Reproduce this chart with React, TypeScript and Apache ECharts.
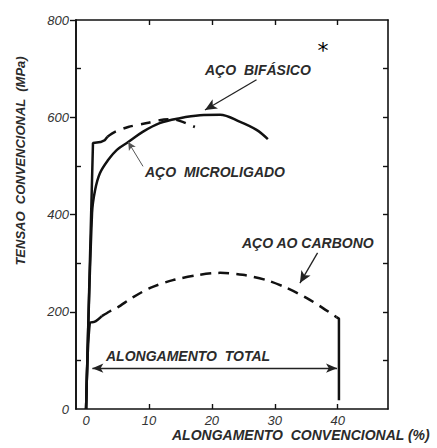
import React, { useEffect, useRef } from "react";
import * as echarts from "echarts";

// ---- data (strain %, stress MPa) ----
const dualPhase: number[][] = [
  [0, 0], [0.95, 403], [1.43, 450], [2.2, 485], [3.5, 512], [4.9, 533], [6.7, 549],
  [9.0, 570], [11.7, 588], [14.9, 598], [18.1, 604], [21.3, 605], [24.4, 591],
  [27.1, 574], [28.9, 555],
];
const hslaSolid: number[][] = [[0, 0], [1.1, 547], [2.3, 549], [3.0, 553], [3.4, 560]];
const hslaDashed: number[][] = [
  [3.4, 560], [4.6, 570], [6.7, 580], [9.7, 588], [11.7, 594], [13.7, 596], [15.0, 592], [17.3, 580],
];
const carbonSolid: number[][] = [[0, 0], [0.6, 177], [1.3, 179], [1.9, 184], [2.5, 191]];
const carbonDashed: number[][] = [
  [2.5, 191], [3.8, 201], [4.9, 208], [7.5, 230], [10.2, 249], [13.8, 265], [18.1, 276],
  [21.3, 280], [24.9, 276], [28.7, 265], [31.9, 249], [35.1, 228], [37.6, 208], [39.8, 189],
];
const carbonFracture: number[][] = [[39.8, 189], [40.2, 186], [40.2, 18]];

const xLabelValues = [0, 10, 20, 30, 40];
const xTickValues = [10, 20, 30, 40];
const yLabelValues = [0, 200, 400, 600, 800];
const yMinorValues = [100, 300, 500, 700];
const yRightTicks = [100, 200, 300, 400, 500, 600, 700];

// annotation arrows: [from, to] in data coords
const bifasicoArrow = [[27.1, 677], [18.9, 615]];
const microArrow = [[9.05, 499], [6.7, 549]];
const carbonoArrow = [[36.8, 321], [34.0, 259]];
const totalArrow = [[1.0, 84], [39.9, 84]];

const INK = "#111";
const TXT = "#2b2b2b";
const ANN_FONT = "italic bold 14px 'Liberation Sans', Arial, sans-serif";

export default function App() {
  const ref = useRef<HTMLDivElement>(null);
  useEffect(() => {
    if (!ref.current) return;
    const chart = echarts.init(ref.current, undefined, { renderer: "svg" });
    const tickLabel = {
      fontFamily: "Liberation Sans",
      fontStyle: "italic" as const,
      fontSize: 13,
      color: "#333",
    };
    const curve = (data: number[][], dashed: any, smooth: number | boolean) => ({
      type: "line",
      data,
      showSymbol: false,
      symbol: "none",
      smooth,
      lineStyle: { color: INK, width: 2.5, type: dashed || "solid", cap: "butt" },
      silent: true,
      z: 3,
    });
    const arrowLine = (
      pts: number[][],
      width: number,
      color: string,
      s0: string,
      s1: string,
      size: number[]
    ) => [
      { coord: pts[0], symbol: s0, symbolSize: size },
      { coord: pts[1], symbol: s1, symbolSize: size, lineStyle: { width, color, type: "solid" } },
    ];
    chart.setOption({
      animation: false,
      grid: { left: 76, right: 49, top: 20, bottom: 39, containLabel: false },
      xAxis: [
        {
          type: "value",
          min: -1.6,
          max: 48,
          position: "bottom",
          axisLine: { show: true, onZero: false, lineStyle: { color: INK, width: 1.6 } },
          axisTick: { show: true, inside: true, length: 5, customValues: xTickValues, lineStyle: { color: INK, width: 1.4 } },
          axisLabel: { show: true, customValues: xLabelValues, margin: 5, ...tickLabel },
          splitLine: { show: false },
        },
        {
          type: "value",
          min: -1.6,
          max: 48,
          position: "top",
          axisLine: { show: true, onZero: false, lineStyle: { color: INK, width: 1.6 } },
          axisTick: { show: true, inside: true, length: 5, customValues: xTickValues, lineStyle: { color: INK, width: 1.4 } },
          axisLabel: { show: false },
          splitLine: { show: false },
        },
      ],
      yAxis: [
        {
          type: "value",
          min: 0,
          max: 800,
          position: "left",
          axisLine: { show: true, onZero: false, lineStyle: { color: INK, width: 1.6 } },
          axisTick: { show: true, inside: false, length: 6, customValues: [200, 400, 600, 800], lineStyle: { color: INK, width: 1.4 } },
          axisLabel: { show: true, customValues: yLabelValues, margin: 7, ...tickLabel },
          splitLine: { show: false },
        },
        {
          type: "value",
          min: 0,
          max: 800,
          position: "right",
          axisLine: { show: true, onZero: false, lineStyle: { color: INK, width: 1.6 } },
          axisTick: { show: true, inside: true, length: 5, customValues: yRightTicks, lineStyle: { color: INK, width: 1.4 } },
          axisLabel: { show: false },
          splitLine: { show: false },
        },
        {
          type: "value",
          min: 0,
          max: 800,
          position: "left",
          axisLine: { show: true, onZero: false, lineStyle: { color: INK, width: 1.6 } },
          axisTick: { show: true, inside: true, length: 5, customValues: yMinorValues, lineStyle: { color: INK, width: 1.4 } },
          axisLabel: { show: false },
          splitLine: { show: false },
        },
      ],
      series: [
        curve(dualPhase, "solid", 0.35),
        curve(hslaSolid, "solid", false),
        curve(hslaDashed, [10, 8], 0.3),
        curve(carbonSolid, "solid", 0.3),
        curve(carbonDashed, [11, 7], 0.3),
        curve(carbonFracture, "solid", false),
        {
          type: "line",
          data: [],
          silent: true,
          markLine: {
            silent: true,
            animation: false,
            label: { show: false },
            lineStyle: { color: INK, width: 1.3, type: "solid" },
            data: [
              arrowLine(bifasicoArrow, 1.3, "#222", "none", "arrow", [8, 12]),
              arrowLine(microArrow, 1, "#555", "none", "arrow", [6, 8]),
              arrowLine(carbonoArrow, 1.3, "#222", "none", "arrow", [8, 12]),
              arrowLine(totalArrow, 1.3, "#222", "arrow", "arrow", [7, 11]),
            ],
          },
        },
      ],
      graphic: [
        {
          type: "text",
          x: 20,
          y: 161,
          rotation: Math.PI / 2,
          style: {
            text: "TENSAO  CONVENCIONAL  (MPa)",
            font: "italic bold 13px 'Liberation Sans', Arial, sans-serif",
            fill: TXT,
            textAlign: "center",
            textVerticalAlign: "middle",
          },
        },
        {
          type: "text",
          x: 172,
          y: 435,
          style: {
            text: "ALONGAMENTO  CONVENCIONAL (%)",
            font: "italic bold 14px 'Liberation Sans', Arial, sans-serif",
            fill: TXT,
            textAlign: "left",
            textVerticalAlign: "middle",
          },
        },
        {
          type: "text",
          x: 205,
          y: 70,
          style: { text: "AÇO  BIFÁSICO", font: ANN_FONT, fill: TXT, textAlign: "left", textVerticalAlign: "middle" },
        },
        {
          type: "text",
          x: 145,
          y: 172,
          style: { text: "AÇO  MICROLIGADO", font: ANN_FONT, fill: TXT, textAlign: "left", textVerticalAlign: "middle" },
        },
        {
          type: "text",
          x: 242,
          y: 243,
          style: { text: "AÇO AO CARBONO", font: ANN_FONT, fill: TXT, textAlign: "left", textVerticalAlign: "middle" },
        },
        {
          type: "text",
          x: 106,
          y: 356,
          style: { text: "ALONGAMENTO  TOTAL", font: ANN_FONT, fill: TXT, textAlign: "left", textVerticalAlign: "middle" },
        },
        {
          type: "text",
          x: 323,
          y: 50,
          style: {
            text: "*",
            font: "22px 'DejaVu Sans', sans-serif",
            fill: "#000",
            textAlign: "center",
            textVerticalAlign: "middle",
          },
        },
      ],
    });
    return () => chart.dispose();
  }, []);
  return (
    <div
      ref={ref}
      style={{ position: "fixed", left: 0, top: 0, width: 437, height: 448, background: "#fff" }}
    />
  );
}
